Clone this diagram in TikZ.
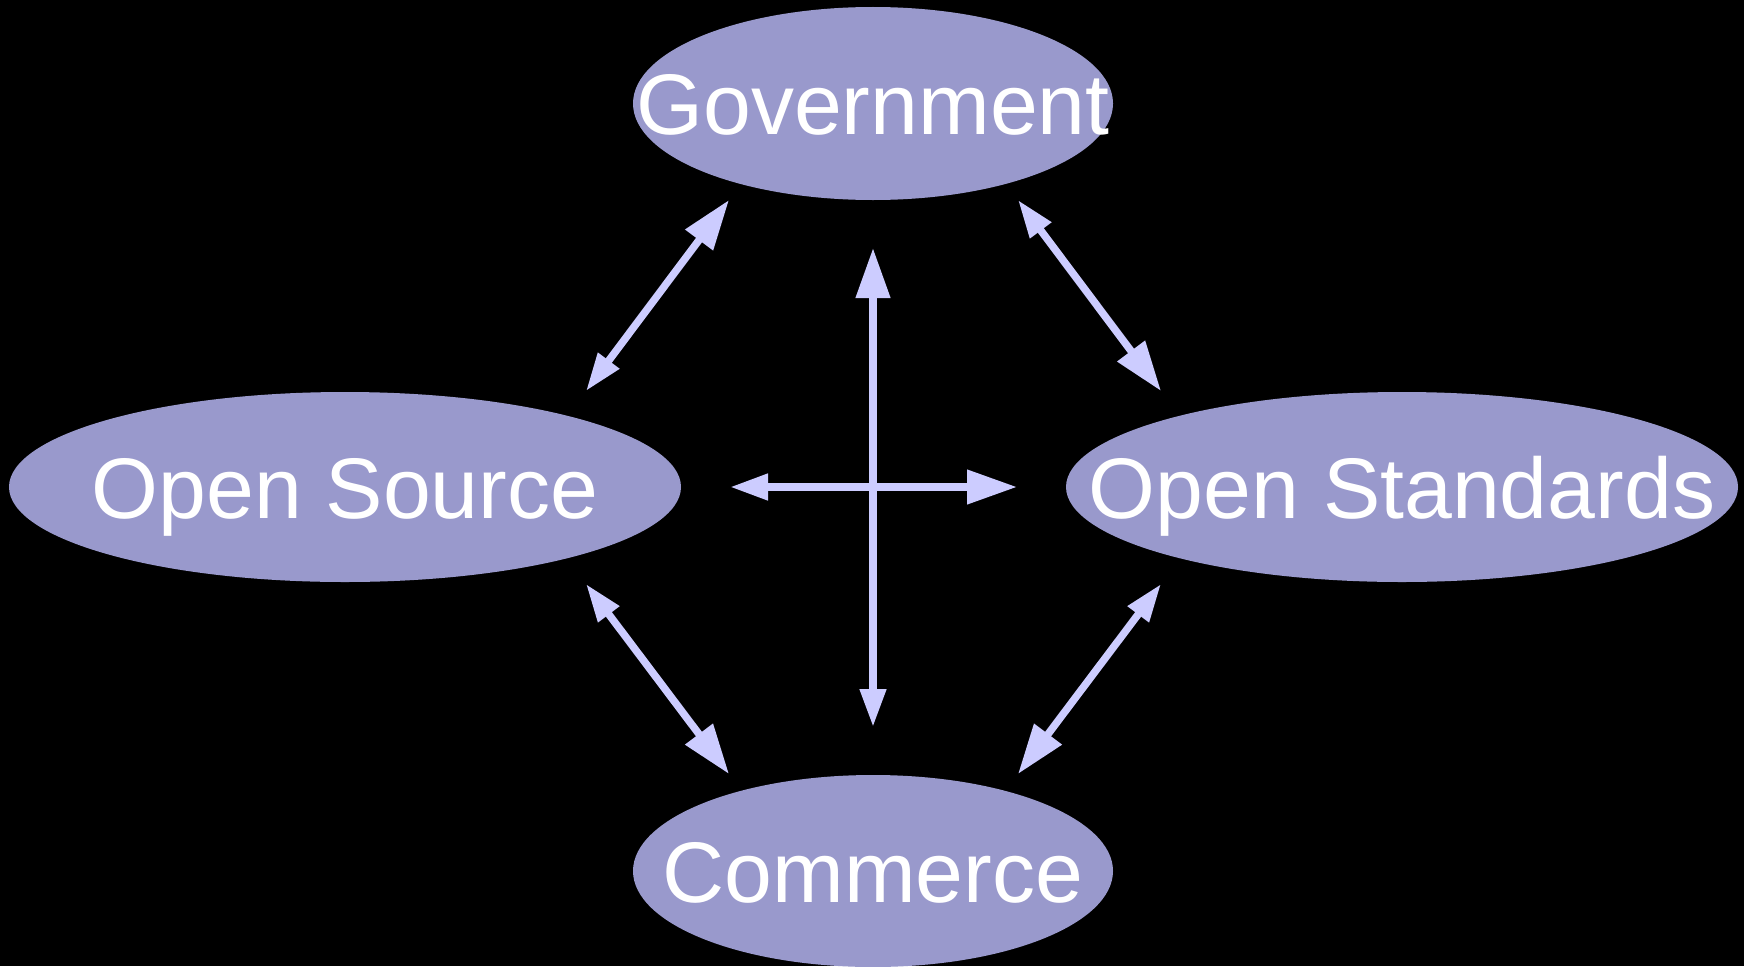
\documentclass[tikz,border=0pt]{standalone}
\usepackage{fontspec}
\setmainfont{Liberation Sans}
\usetikzlibrary{arrows.meta}
\definecolor{nodefill}{HTML}{9999CC}
\definecolor{arrowcol}{HTML}{CCCCFF}
\tikzset{
  blobfill/.style={fill=nodefill},
  label text/.style={text=white, inner sep=0pt, text height=62pt, text depth=0pt,
    font=\fontsize{86}{100}\selectfont},
  link/.style={draw=arrowcol, line width=7.5pt,
    {Triangle[length=38pt,width=25pt,fill=arrowcol]}-{Triangle[length=50pt,width=33pt,fill=arrowcol]}}
}
\begin{document}
\begin{tikzpicture}[x=1pt,y=-1pt]
\fill[black] (0,0) rectangle (1744,966);
\useasboundingbox (0,0) rectangle (1744,966);

% ellipse bodies
\fill[blobfill] (873,103.5) ellipse[x radius=240pt, y radius=96.5pt];
\fill[blobfill] (345,487) ellipse[x radius=336pt, y radius=95pt];
\fill[blobfill] (1402,487) ellipse[x radius=336pt, y radius=95pt];
\fill[blobfill] (873,871) ellipse[x radius=240pt, y radius=96pt];

\node[label text] (gov) at (873,103.5) {Government};
\node[label text] (os) at (345,487) {Open Source};
\node[label text] (ostd) at (1402,487) {Open Standards};
\node[label text] (com) at (873,871) {Commerce};

% arrow end points
\coordinate (os-g) at (586,391);
\coordinate (g-os) at (729,200);
\coordinate (g-st) at (1018,200);
\coordinate (st-g) at (1161,391);
\coordinate (os-c) at (586,584);
\coordinate (c-os) at (729,774);
\coordinate (st-c) at (1161,584);
\coordinate (c-st) at (1018,774);
\coordinate (h-os) at (730,487);
\coordinate (h-st) at (1017,487);
\coordinate (v-c) at (873,727);
\coordinate (v-g) at (873,248);

\draw[link] (os-g) -- (g-os);
\draw[link] (g-st) -- (st-g);
\draw[link] (os-c) -- (c-os);
\draw[link] (st-c) -- (c-st);
\draw[link] (h-os) -- (h-st);
\draw[link] (v-c) -- (v-g);
\end{tikzpicture}
\end{document}
